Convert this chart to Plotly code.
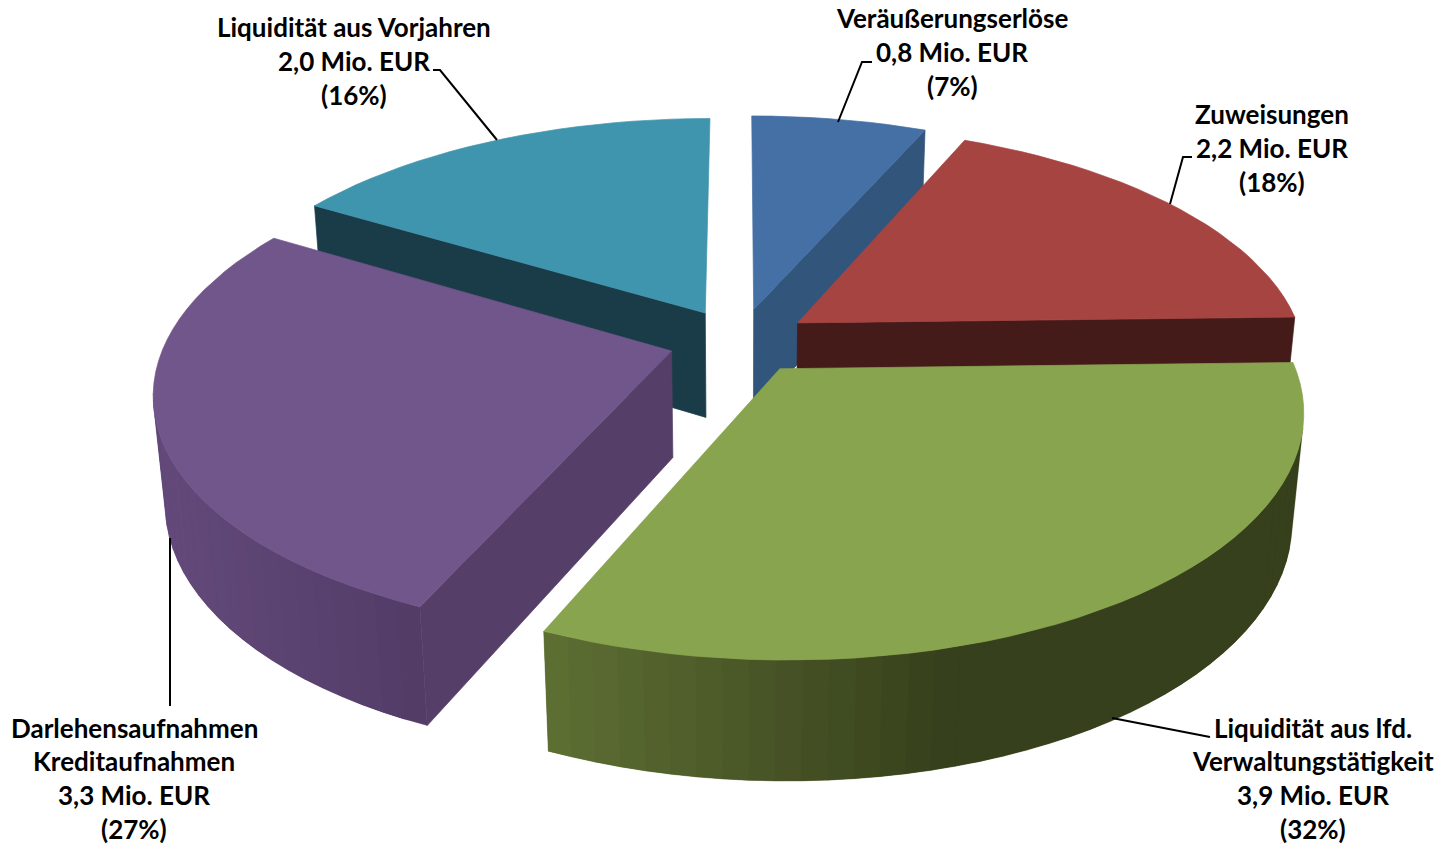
import math
import plotly.graph_objects as go

# ---- data ----
names = [["Veräußerungserlöse"], ["Zuweisungen"], ["Liquidität aus lfd.", "Verwaltungstätigkeit"],
         ["Darlehensaufnahmen", "Kreditaufnahmen"], ["Liquidität aus Vorjahren"]]
values = [0.8, 2.2, 3.9, 3.3, 2.0]
percent_labels = [7, 18, 32, 27, 16]

# ---- styles ----
top_colors = ["#4570A5", "#A64442", "#88A44E", "#71568B", "#4095AE"]
side_colors = [("#32557C", "#32557C"), ("#451B1A", "#451B1A"), ("#5E6F33", "#36401C"),
               ("#62497A", "#523C66"), ("#1A3C49", "#1A3C49")]
radial_colors = ["#32557C", "#451B1A", "#5E6F33", "#553F68", "#1A3C49"]
draw_order = [4, 0, 1, 3, 2]
explode = 0.14
CX, CY, RX, RY, PERSP, DEPTH, DROP = 739.5, 341, 506, 234.3, 0.1616, 108, 0.02
FONT = "Lato"
FS = 26
LINE = 33.8

def rgb(h):
    return [int(h[i:i + 2], 16) for i in (1, 3, 5)]

def mix(a, b, t):
    ca, cb = rgb(a), rgb(b)
    return "rgb(%d,%d,%d)" % tuple(round(ca[i] + (cb[i] - ca[i]) * t) for i in range(3))

def project(x, y, low):
    w = 1 + PERSP * y + (DROP if low else 0)
    return (CX + RX * x / w, CY + (-RY * y + (DEPTH if low else 0)) / w)

def poly(fig, pts, color, lw=0.7):
    xs = [p[0] for p in pts] + [pts[0][0]]
    ys = [p[1] for p in pts] + [pts[0][1]]
    fig.add_trace(go.Scatter(x=xs, y=ys, mode="lines", fill="toself", fillcolor=color,
                             line=dict(color=color, width=lw), hoverinfo="skip", showlegend=False))

def area(pts):
    return sum(pts[i][0] * pts[(i + 1) % len(pts)][1] - pts[(i + 1) % len(pts)][0] * pts[i][1]
               for i in range(len(pts)))

total = sum(values)
angles = [0]
for v in values:
    angles.append(angles[-1] + v / total * 2 * math.pi)

fig = go.Figure()
for i in draw_order:
    a0, a1 = angles[i], angles[i + 1]
    mid = (a0 + a1) / 2
    ox, oy = explode * math.sin(mid), explode * math.cos(mid)
    n = max(4, int((a1 - a0) / math.radians(2.5)))
    rim = [(ox + math.sin(a0 + (a1 - a0) * k / n), oy + math.cos(a0 + (a1 - a0) * k / n)) for k in range(n + 1)]
    apex = (ox, oy)
    # radial faces first (slivers that barely face the viewer are dropped)
    for a, b in [(apex, rim[0]), (rim[-1], apex)]:
        q = [project(*a, False), project(*b, False), project(*b, True), project(*a, True)]
        if area(q) < -5000:
            poly(fig, q, radial_colors[i])
    # outer wall: every band overlaps the next one so no seams show
    for k in range(n):
        a, b = rim[k], rim[k + 1]
        q = [project(*a, False), project(*b, False), project(*b, True), project(*a, True)]
        if area(q) < 0:
            xm = (q[0][0] + q[1][0]) / 2
            if i == 2:
                t = min(1, max(0, (xm - 545) / 400))
            else:
                t = min(1, max(0, (xm - 170) / 250))
            c = rim[min(k + 2, n)]
            q2 = [project(*a, False), project(*b, False), project(*c, False),
                  project(*c, True), project(*b, True), project(*a, True)]
            poly(fig, q2, mix(side_colors[i][0], side_colors[i][1], t), lw=0.3)
    poly(fig, [project(*apex, False)] + [project(*p, False) for p in rim], top_colors[i])

# leader lines
leaders = [[497, 140, 440, 70, 433, 70], [838, 122, 862, 62, 872, 62],
           [1170, 204, 1183, 157, 1192, 157], [170, 538, 170, 706], [1112, 718, 1210, 737]]
for L in leaders:
    fig.add_trace(go.Scatter(x=L[0::2], y=L[1::2], mode="lines", line=dict(color="black", width=2),
                             hoverinfo="skip", showlegend=False))

# labels
label_pos = [(952, 18), (1272, 114), (1313, 727.5), (134, 727.5), (354, 27)]
annotations = []
for nm, v, p, (x, y) in zip(names, values, percent_labels, label_pos):
    lines = nm + ["%s Mio. EUR" % str(v).replace(".", ","), "(%d%%)" % p]
    for j, t in enumerate(lines):
        annotations.append(dict(x=x, y=y + j * LINE, xref="x", yref="y", text=t, showarrow=False,
                                xanchor="center", yanchor="middle", align="center",
                                font=dict(family=FONT, size=FS, color="black", weight="bold")))

fig.update_layout(width=1452, height=845, margin=dict(l=0, r=0, t=0, b=0), paper_bgcolor="white",
                  plot_bgcolor="white", showlegend=False, annotations=annotations,
                  xaxis=dict(range=[0, 1452], visible=False, fixedrange=True),
                  yaxis=dict(range=[845, 0], visible=False, fixedrange=True))
fig.write_html("out.html", post_script="document.body.style.margin='0';", config=dict(displayModeBar=False))
